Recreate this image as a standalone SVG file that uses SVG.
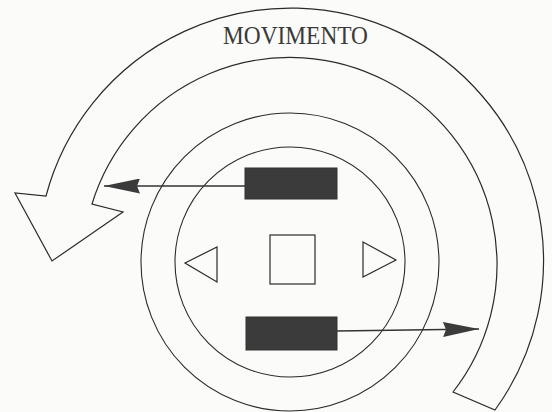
<svg xmlns="http://www.w3.org/2000/svg" width="552" height="412" viewBox="0 0 552 412">
<style>
.ln{fill:none;stroke:#2a2a2a;stroke-width:1.1}
.sh{fill:#fbfbf9;stroke:#2a2a2a;stroke-width:1.2;stroke-linejoin:miter}
.blk{fill:#3b3b3b;stroke:#333;stroke-width:1}
.lbl{font-family:"Liberation Serif","DejaVu Serif",serif;font-size:25px;fill:#3a3a3a}
.con{fill:none;stroke:#333;stroke-width:1.5}
</style>
<defs>
<marker id="ah" viewBox="0 0 36 15" refX="36" refY="7.5" markerWidth="36" markerHeight="15" markerUnits="userSpaceOnUse" orient="auto">
<path d="M0,0 L36,7.5 L0,15 L3,7.5 Z" fill="#3b3b3b"/>
</marker>
</defs>
<rect width="552" height="412" fill="#fbfbf9"/>
<g id="movimento-arrow">
<path class="sh" d="M46,196 A253 253 0 1 1 495,410 L453,392 A207 207 0 1 0 92,204 L123,212 L52,261 L15,193 Z"/>
<text class="lbl" x="223" y="44" textLength="145" lengthAdjust="spacingAndGlyphs">MOVIMENTO</text>
</g>
<g id="outer-ring">
<circle class="ln" cx="290" cy="262" r="149"/>
</g>
<g id="inner-ring">
<circle class="ln" cx="290" cy="262" r="115"/>
</g>
<g id="left-triangle">
<polygon class="sh" points="185,263 217,247 217,282"/>
</g>
<g id="center-square">
<rect class="sh" x="270" y="235" width="45" height="49"/>
</g>
<g id="right-triangle">
<polygon class="sh" points="363,242 396,260 363,277"/>
</g>
<g id="top-block">
<rect class="blk" x="245" y="168" width="92" height="31"/>
</g>
<g id="bottom-block">
<rect class="blk" x="246" y="317" width="91" height="33"/>
</g>
<g id="connectors">
<line class="con" x1="245" y1="186" x2="104" y2="186" marker-end="url(#ah)"/>
<line class="con" x1="337" y1="331" x2="479" y2="329" marker-end="url(#ah)"/>
</g>
</svg>
